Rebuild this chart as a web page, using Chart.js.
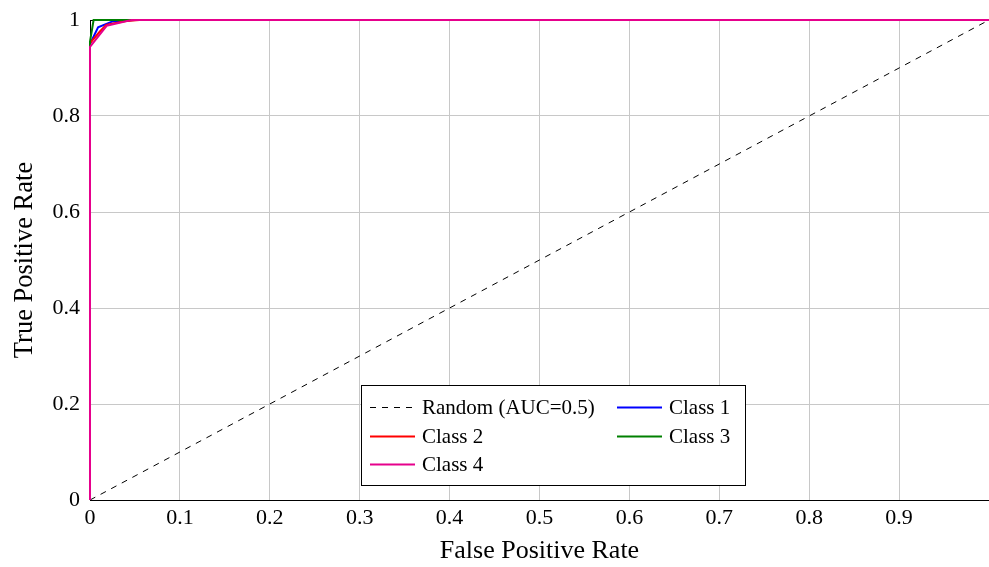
<!DOCTYPE html>
<html>
<head>
<meta charset="utf-8">
<script src="https://cdn.jsdelivr.net/npm/chart.js@4/dist/chart.umd.min.js"></script>
<style>
  html, body { margin: 0; padding: 0; background: #fff; }
  #wrap { width: 989px; height: 567px; }
</style>
</head>
<body>
<div id="wrap"><canvas id="roc"></canvas></div>
<script>
// ROC curves: [FPR, TPR]
const randomPts = [[0, 0], [1, 1]];
const class1Pts = [[0, 0], [0, 0.95], [0.009, 0.985], [0.025, 0.997], [0.05, 1], [1, 1]];
const class2Pts = [[0, 0], [0, 0.952], [0.011, 0.976], [0.018, 0.99], [0.04, 0.998], [0.055, 1], [1, 1]];
const class3Pts = [[0, 0], [0, 0.955], [0.004, 1], [1, 1]];
const class4Pts = [[0, 0], [0, 0.944], [0.0185, 0.988], [0.046, 1], [1, 1]];

const seriesNames = ['Random (AUC=0.5)', 'Class 1', 'Class 2', 'Class 3', 'Class 4'];
const seriesColors = ['#000000', '#0000ff', '#ff0000', '#008000', '#e6008c'];
const xTicks = [0, 0.1, 0.2, 0.3, 0.4, 0.5, 0.6, 0.7, 0.8, 0.9];
const yTicks = [0, 0.2, 0.4, 0.6, 0.8, 1];

const FONT = '"Liberation Serif", "Times New Roman", serif';

function toXY(pts) { return pts.map(p => ({ x: p[0], y: p[1] })); }

const allPts = [randomPts, class1Pts, class2Pts, class3Pts, class4Pts];
const datasets = allPts.map((pts, i) => ({
    label: seriesNames[i],
    data: toXY(pts),
    showLine: true,
    borderColor: seriesColors[i],
    backgroundColor: seriesColors[i],
    borderWidth: i === 0 ? 1 : 2,
    borderDash: i === 0 ? [6, 6] : [],
    pointRadius: 0,
    tension: 0,
    clip: 4,
    order: allPts.length - i   // later series drawn on top
}));

// frame under the curves, legend on top
const boxPlugin = {
    id: 'boxLegend',
    beforeDatasetsDraw(chart) {
        const ctx = chart.ctx;
        const a = chart.chartArea;
        ctx.save();
        ctx.strokeStyle = '#000';
        ctx.lineWidth = 1;
        ctx.strokeRect(a.left + 0.5, a.top + 0.5, a.right - a.left, a.bottom - a.top);
        ctx.restore();
    },
    afterDatasetsDraw(chart) {
        const ctx = chart.ctx;
        ctx.save();
        const bx = 361.5, by = 385.5, bw = 384, bh = 100;
        ctx.fillStyle = '#fff';
        ctx.fillRect(bx, by, bw, bh);
        ctx.strokeStyle = '#000';
        ctx.lineWidth = 1;
        ctx.strokeRect(bx, by, bw, bh);
        ctx.font = '21px ' + FONT;
        ctx.textBaseline = 'middle';
        const cols = [370, 617];
        const rows = [407, 436, 464];
        chart.data.datasets.forEach((ds, i) => {
            const cx = cols[i % 2], cy = rows[Math.floor(i / 2)];
            ctx.beginPath();
            ctx.strokeStyle = ds.borderColor;
            ctx.lineWidth = ds.borderWidth;
            ctx.setLineDash(ds.borderDash);
            ctx.moveTo(cx, cy + 0.5);
            ctx.lineTo(cx + 45, cy + 0.5);
            ctx.stroke();
            ctx.setLineDash([]);
            ctx.fillStyle = '#000';
            ctx.fillText(ds.label, cx + 52, cy + 1);
        });
        ctx.restore();
    }
};

new Chart(document.getElementById('roc'), {
    type: 'scatter',
    data: { datasets: datasets },
    options: {
        responsive: true,
        maintainAspectRatio: false,
        animation: false,
        layout: { padding: { left: 0, right: 0, top: 20, bottom: 0 } },
        plugins: { legend: { display: false }, tooltip: { enabled: false } },
        scales: {
            x: {
                type: 'linear',
                min: 0,
                max: 1,
                afterBuildTicks: s => { s.ticks = xTicks.map(v => ({ value: v })); },
                afterFit: s => { s.height = 67; s.paddingLeft = 0; s.paddingRight = 0; },
                ticks: {
                    color: '#000',
                    padding: 5,
                    maxRotation: 0,
                    font: { family: FONT, size: 22 },
                    callback: v => String(v)
                },
                grid: { color: '#c8c8c8', drawTicks: false },
                border: { color: '#000' },
                title: {
                    display: true,
                    text: 'False Positive Rate',
                    color: '#000',
                    font: { family: FONT, size: 26 },
                    padding: { top: 0, bottom: 0 }
                }
            },
            y: {
                type: 'linear',
                min: 0,
                max: 1,
                afterBuildTicks: s => { s.ticks = yTicks.map(v => ({ value: v })); },
                afterFit: s => { s.width = 90; s.paddingTop = 0; s.paddingBottom = 0; },
                ticks: {
                    color: '#000',
                    padding: 10,
                    font: { family: FONT, size: 22 },
                    callback: v => String(v)
                },
                grid: { color: '#c8c8c8', drawTicks: false },
                border: { color: '#000' },
                title: {
                    display: true,
                    text: 'True Positive Rate',
                    color: '#000',
                    font: { family: FONT, size: 26.5 },
                    padding: { top: 9, bottom: 9 }
                }
            }
        }
    },
    plugins: [boxPlugin]
});
</script>
</body>
</html>
